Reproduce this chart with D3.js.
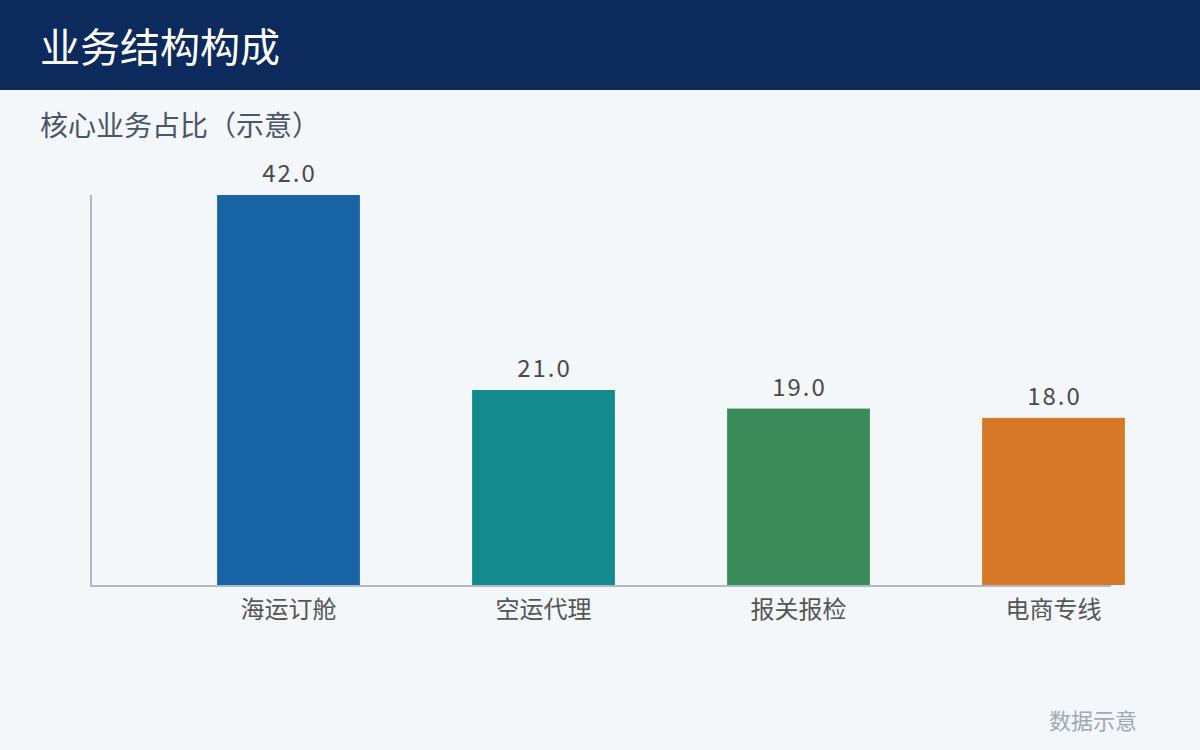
<!DOCTYPE html>
<html>
<head>
<meta charset="utf-8">
<script src="https://cdn.jsdelivr.net/npm/d3@7"></script>
<style>
  html, body { margin: 0; padding: 0; background: #f4f7fa; }
  svg { display: block; font-family: "Noto Sans CJK SC", "Noto Sans", sans-serif; }
</style>
</head>
<body>
<svg id="chart" width="1200" height="750"></svg>
<script>
const title = '业务结构构成';
const subtitle = '核心业务占比（示意）';
const footnote = '数据示意';
const categories = ['海运订舱', '空运代理', '报关报检', '电商专线'];
const values = [42.0, 21.0, 19.0, 18.0];
const colors = ['#1763a3', '#138b8d', '#3b8b5a', '#d77828'];

const width = 1200, height = 750;
const plot = { left: 91, right: 1111, top: 195, bottom: 585 };

const svg = d3.select('#chart');

svg.append('rect')
  .attr('width', width).attr('height', height)
  .attr('fill', '#f4f7fa');

// header band
svg.append('rect')
  .attr('width', width).attr('height', 90)
  .attr('fill', '#0c2a5b');

svg.append('text')
  .attr('x', 40).attr('y', 62)
  .attr('fill', '#ffffff')
  .style('font-size', '40px')
  .text(title);

svg.append('text')
  .attr('x', 40).attr('y', 136)
  .attr('fill', '#4a5565')
  .style('font-size', '28px')
  .text(subtitle);

const y = d3.scaleLinear()
  .domain([0, d3.max(values)])
  .range([plot.bottom, plot.top]);

// bars sit half a step to the right of the axis frame
const x = d3.scaleBand()
  .domain(categories)
  .range([plot.left + 70, plot.right + 70])
  .paddingInner(0.44)
  .paddingOuter(0.22);

// axis lines
svg.append('line')
  .attr('x1', plot.left).attr('x2', plot.left)
  .attr('y1', y(d3.max(values))).attr('y2', y(0))
  .attr('stroke', '#b0bac6').attr('stroke-width', 2);

svg.append('line')
  .attr('x1', plot.left - 1).attr('x2', plot.right)
  .attr('y1', y(0) + 1).attr('y2', y(0) + 1)
  .attr('stroke', '#b0bac6').attr('stroke-width', 2);

const data = categories.map((c, i) => ({ cat: c, value: values[i], color: colors[i] }));

svg.append('g')
  .selectAll('rect')
  .data(data)
  .join('rect')
    .attr('x', d => x(d.cat))
    .attr('y', d => y(d.value))
    .attr('width', x.bandwidth())
    .attr('height', d => y(0) - y(d.value))
    .attr('fill', d => d.color);

svg.append('g')
  .selectAll('text')
  .data(data)
  .join('text')
    .attr('x', d => x(d.cat) + x.bandwidth() / 2 + 1)
    .attr('y', d => y(d.value) - 13)
    .attr('text-anchor', 'middle')
    .attr('fill', '#4a4a4a')
    .style('font-size', '24px')
    .style('letter-spacing', '2px')
    .text(d => d3.format('.1f')(d.value));

svg.append('g')
  .selectAll('text')
  .data(data)
  .join('text')
    .attr('x', d => x(d.cat) + x.bandwidth() / 2)
    .attr('y', 618)
    .attr('text-anchor', 'middle')
    .attr('fill', '#555555')
    .style('font-size', '24px')
    .text(d => d.cat);

svg.append('text')
  .attr('x', 1137).attr('y', 729)
  .attr('text-anchor', 'end')
  .attr('fill', '#a0a8b4')
  .style('font-size', '22px')
  .text(footnote);
</script>
</body>
</html>
